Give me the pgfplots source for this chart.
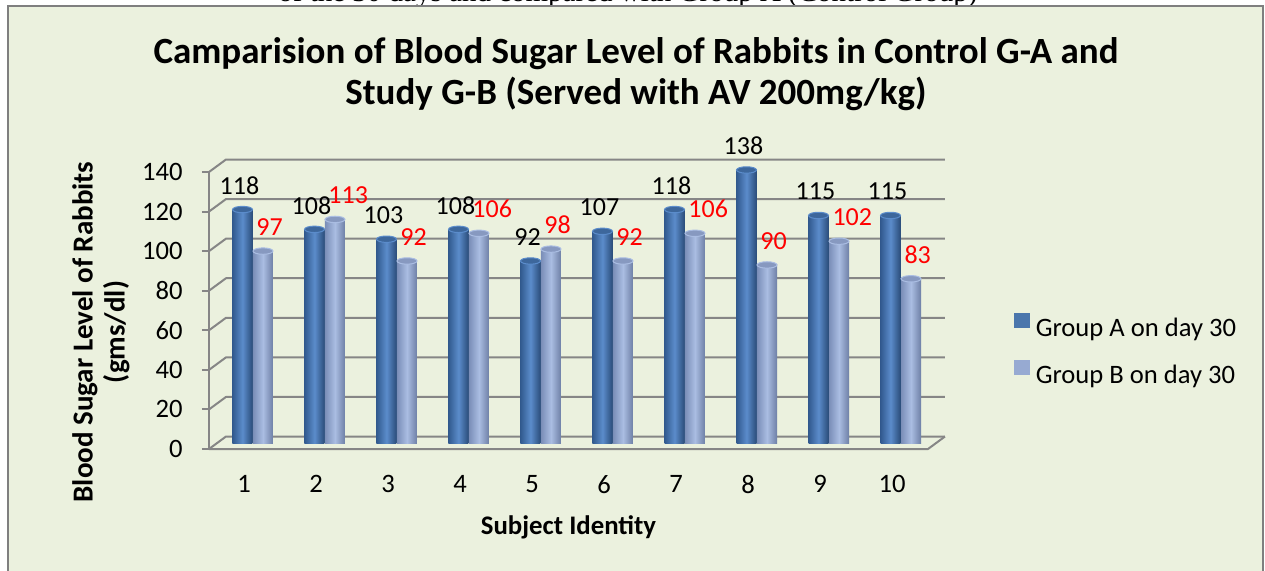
\documentclass[border=0pt]{standalone}
\usepackage{fontspec}
\setmainfont{Carlito}
\newfontfamily\timesf{Liberation Serif}
\usepackage{pgfplots}
\pgfplotsset{compat=1.18}
\usepackage{pgfplotstable}

\definecolor{bg}{HTML}{EBF1DE}
\definecolor{framec}{HTML}{7F7F7F}
\definecolor{gridc}{HTML}{868686}
\definecolor{aMid}{HTML}{5B8CCB}
\definecolor{aEdge}{HTML}{325A8F}
\definecolor{aLeg}{HTML}{4A76AC}
\definecolor{aTop}{HTML}{3D679C}
\definecolor{bMid}{HTML}{AABDE2}
\definecolor{bEdge}{HTML}{7A8EB8}
\definecolor{bLeg}{HTML}{97AAD2}
\definecolor{bTop}{HTML}{8799C0}

\pgfplotstableread{
x A B
1 118 97
2 108 113
3 103 92
4 108 106
5 92 98
6 107 92
7 118 106
8 138 90
9 115 102
10 115 83
}\data

\pgfdeclareplotmark{cap}{%
  \pgfpathellipse{\pgfpointorigin}{\pgfqpoint{5pt}{0pt}}{\pgfqpoint{0pt}{1.6pt}}%
  \pgfusepathqfillstroke}

\pgfplotsset{
  barA/.style={ybar, bar width=10pt, bar shift=0pt, draw=none, forget plot,
    left color=aEdge, right color=aEdge!85!black, middle color=aMid},
  barB/.style={ybar, bar width=10pt, bar shift=0pt, draw=none, forget plot,
    left color=bEdge, right color=bEdge!90!black, middle color=bMid},
}

\begin{document}
\begin{tikzpicture}
\useasboundingbox (0,0) rectangle (632.5pt,285pt);
\begin{scope}
\clip (0,282pt) rectangle (632.5pt,285pt);
\node[anchor=base west, font=\timesf\fontsize{14.5}{16}\selectfont, inner sep=0pt] at (139pt,284.5pt) {of the 30 days and compared with Group A (Control Group)};
\end{scope}
\draw[framec, line width=1.2pt, fill=bg] (4pt,-5pt) rectangle (631.5pt,282pt);

\node[anchor=base, font=\bfseries\fontsize{18.5}{22}\selectfont, inner sep=0pt] at (318pt,253.5pt) {Camparision of Blood Sugar Level of Rabbits in Control G-A and};
\node[anchor=base, font=\bfseries\fontsize{18.5}{22}\selectfont, inner sep=0pt] at (318pt,233pt) {Study G-B (Served with AV 200mg/kg)};

% front axis: ticks, labels, grid frame
\begin{axis}[
  at={(104.5pt,60.5pt)}, anchor=south west,
  scale only axis, width=359.5pt, height=138.5pt,
  xmin=0.514, xmax=10.5, ymin=0, ymax=140,
  clip=false,
  axis line style={draw=none},
  xtick={1,...,10}, ytick={0,20,...,140},
  xtick style={draw=none},
  ytick pos=left,
  ytick style={draw=gridc, line width=1pt},
  tick align=outside, major tick length=3.5pt,
  /pgf/number format/assume math mode=true,
  ticklabel style={font=\fontsize{13.3}{15}\selectfont},
  yticklabel style={inner sep=0pt, anchor=east, xshift=-9.5pt},
  xticklabel style={inner sep=0pt, anchor=north, yshift=-9.5pt},
  xlabel={Subject Identity},
  xlabel style={at={(axis description cs:0.5,-0.283)}, anchor=center, font=\bfseries\fontsize{13.4}{15}\selectfont},
  ylabel={Blood Sugar Level of Rabbits\\(gms/dl)},
  ylabel style={at={(axis description cs:-0.1502,0.4224)}, anchor=center, align=center, font=\bfseries\fontsize{14.5}{16}\selectfont},
]
\draw[gridc, line width=1pt] (axis cs:0.514,0) -- (axis cs:0.514,140);
\draw[gridc, line width=1pt, line join=round] (axis cs:0.514,0) -- (axis cs:10.5,0) -- (axis cs:10.736,6.32);
\draw[gridc, line width=1pt, line join=round] (axis cs:0.514,0) -- (axis cs:0.75,6.32) -- (axis cs:10.736,6.32);
\draw[gridc, line width=1pt, line join=round] (axis cs:0.514,20) -- (axis cs:0.75,26.32) -- (axis cs:10.736,26.32);
\draw[gridc, line width=1pt, line join=round] (axis cs:0.514,40) -- (axis cs:0.75,46.32) -- (axis cs:10.736,46.32);
\draw[gridc, line width=1pt, line join=round] (axis cs:0.514,60) -- (axis cs:0.75,66.32) -- (axis cs:10.736,66.32);
\draw[gridc, line width=1pt, line join=round] (axis cs:0.514,80) -- (axis cs:0.75,86.32) -- (axis cs:10.736,86.32);
\draw[gridc, line width=1pt, line join=round] (axis cs:0.514,100) -- (axis cs:0.75,106.32) -- (axis cs:10.736,106.32);
\draw[gridc, line width=1pt, line join=round] (axis cs:0.514,120) -- (axis cs:0.75,126.32) -- (axis cs:10.736,126.32);
\draw[gridc, line width=1pt, line join=round] (axis cs:0.514,140) -- (axis cs:0.75,146.32) -- (axis cs:10.736,146.32);
\end{axis}

% bars
\begin{axis}[
  at={(104.5pt,63.5pt)}, anchor=south west,
  scale only axis, width=359.5pt, height=138.5pt,
  xmin=0.514, xmax=10.5, ymin=0, ymax=140,
  clip=false, hide axis,
  /pgf/number format/assume math mode=true,
  legend style={at={(axis description cs:1.1196,0.3375)}, anchor=west, draw=none, fill=none,
     inner sep=0pt, font=\fontsize{13.3}{15}\selectfont, row sep=10pt, column sep=3pt,
     nodes={inner sep=0pt}},
  legend cell align=left,
]
\pgfplotsinvokeforeach{1,...,10}{
  \addplot[barA, restrict expr to domain={\thisrow{x}}{#1:#1}]
    table[x expr=\thisrow{x}-0.0208, y=A] {\data};
  \addplot[barB, restrict expr to domain={\thisrow{x}}{#1:#1}]
    table[x expr=\thisrow{x}+0.2639, y=B] {\data};
}
\addlegendimage{legend image code/.code={\fill[aLeg] (0pt,0.6pt) rectangle (7.3pt,7.9pt);}}
\addlegendentry{Group A on day 30}
\addlegendimage{legend image code/.code={\fill[bLeg] (0pt,0.6pt) rectangle (7.3pt,7.9pt);}}
\addlegendentry{Group B on day 30}
\addplot[only marks, mark=cap, mark options={fill=aTop, draw=aMid, line width=0.5pt}, forget plot,
  nodes near coords,
  every node near coord/.append style={anchor=center, yshift=12pt, xshift=-1.5pt, text=black, font=\fontsize{13}{15}\selectfont, inner sep=0pt}]
  table[x expr=\thisrow{x}-0.0208, y=A] {\data};
\addplot[only marks, mark=cap, mark options={fill=bTop, draw=bMid, line width=0.5pt}, forget plot,
  nodes near coords,
  every node near coord/.append style={anchor=west, yshift=12pt, xshift=-3.5pt, text=red, font=\fontsize{13}{15}\selectfont, inner sep=0pt}]
  table[x expr=\thisrow{x}+0.2639, y=B] {\data};
\end{axis}
\end{tikzpicture}
\end{document}
